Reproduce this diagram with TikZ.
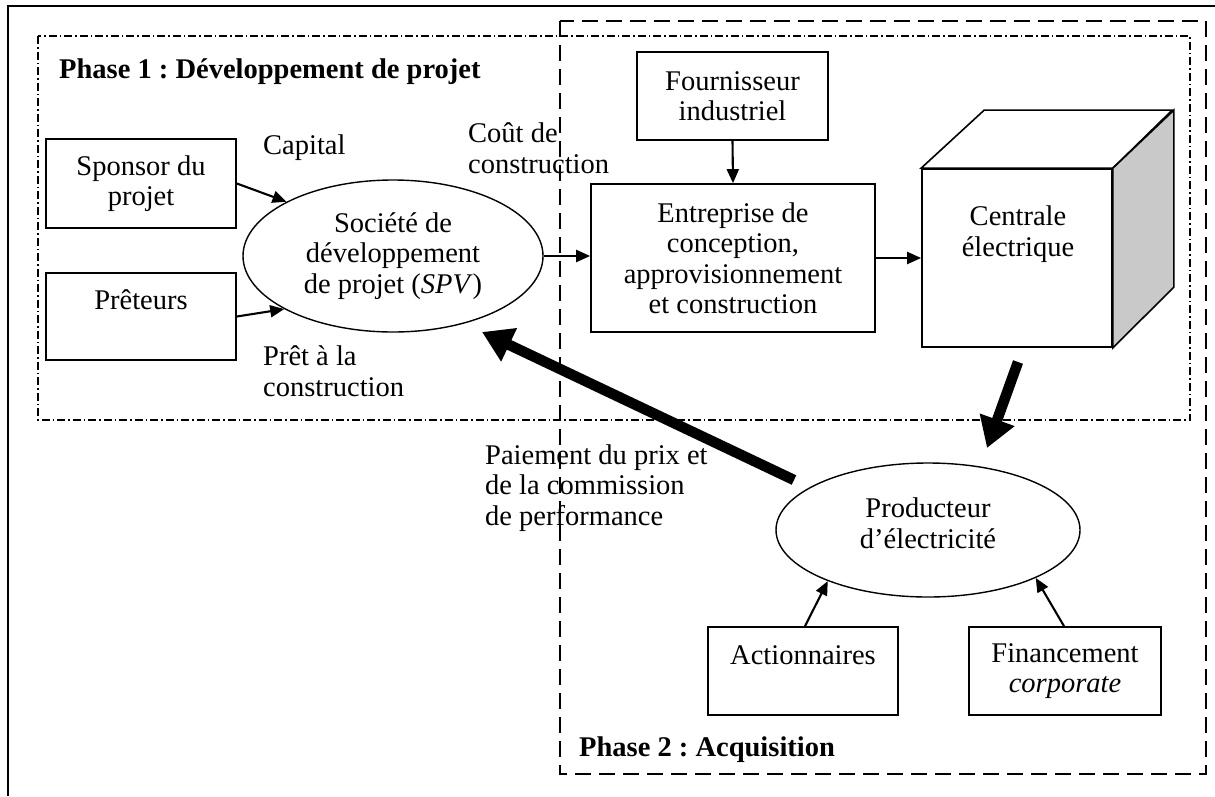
\documentclass[tikz,border=0pt]{standalone}
\usepackage{fontspec}
\setmainfont{Liberation Serif}
\usetikzlibrary{arrows.meta,shapes.geometric}
\frenchspacing
\begin{document}
\begin{tikzpicture}[x=1pt,y=-1pt,
  every node/.style={font=\fontsize{28.5}{30.5}\selectfont, inner sep=0pt, align=center},
  box/.style={draw, line width=1.7pt, rectangle},
  oval/.style={draw, line width=1.4pt, ellipse},
  lbl/.style={align=left, anchor=west},
  arr/.style={line width=2.1pt, -{Triangle[length=14pt,width=12pt]}},
  bigarr/.style={line width=10.5pt, -{Triangle[length=30pt,width=35pt]}},
  phaseone/.style={line width=1.3pt, dash pattern=on 8pt off 3pt on 1.5pt off 3pt},
  phasetwo/.style={line width=1.6pt, dash pattern=on 16pt off 8pt},
  title/.style={font=\fontsize{28.5}{30.5}\selectfont\bfseries, anchor=west}
]
\useasboundingbox (0,0) rectangle (1215,796);
\fill[white] (0,0) rectangle (1215,796);
\draw[line width=2.5pt] (8,796) -- (8,6) -- (1215,6);
\draw[phaseone] (38,36) rectangle (1190,420);
\draw[phasetwo] (560,21) rectangle (1206,774);

\node[title] (ph1) at (59,72) {Phase 1 : Développement de projet};
\node[title] (ph2) at (579,750) {Phase 2 : Acquisition};

\node[box, minimum width=190pt, minimum height=89pt] (spons) at (141,183.5) {Sponsor du\\projet};
\node[box, minimum width=190pt, minimum height=87pt] (pret) at (141,316.5) {};
\node (pretT) at (141,300) {Prêteurs};
\node[oval, minimum width=300pt, minimum height=152pt] (spv) at (393,256) {Société de\\développement\\de projet (\textit{SPV})};
\node[box, minimum width=191pt, minimum height=88pt] (four) at (732.5,96) {Fournisseur\\industriel};
\node[box, minimum width=284pt, minimum height=148pt] (ent) at (733,258) {Entreprise de\\conception,\\approvisionnement\\et construction};

\node[box, fill=white, minimum width=190pt, minimum height=178pt] (cube) at (1017,258) {};
\draw[line width=1.6pt, fill=white] (cube.north west) -- ++(63,-58) -- ++(188,0) -- (cube.north east) -- cycle;
\draw[line width=1.6pt, fill=gray!42] (cube.north east) -- ++(61,-58) -- ++(0,177) -- (cube.south east) -- cycle;
\node (cubeT) at (1018,234) {Centrale\\électrique};

\node[oval, minimum width=304pt, minimum height=134pt] (prod) at (928,530) {};
\node (prodT) at (928,523) {Producteur\\d’électricité};
\node[box, minimum width=190pt, minimum height=88pt] (act) at (803,671) {};
\node (actT) at (803,655) {Actionnaires};
\node[box, minimum width=192pt, minimum height=88pt] (fin) at (1065,671) {Financement\\\textit{corporate}};

\node[lbl] (capL) at (263,148) {Capital};
\node[lbl] (coutL) at (468,148) {Coût de\\construction};
\node[lbl] (pretL) at (263,371) {Prêt à la\\construction};
\node[lbl] (paieL) at (485,488) {Paiement du prix et\\de la commission\\de performance};

\draw[arr] (spons.east) -- (spv.153);
\draw[arr] (pret.east) -- (spv.206);
\draw[arr] (spv.east) -- (spv.east -| ent.west);
\draw[arr] (four.south) -- (ent.north);
\draw[arr] (ent.east) -- (ent.east -| cube.west);
\draw[arr] ([xshift=2pt]act.north) -- (prod.207);
\draw[arr] ([xshift=-1pt]fin.north) -- (prod.336);

\coordinate (c1) at (1018,362);
\coordinate (c2) at (987,448);
\draw[bigarr] (c1) -- (c2);
\coordinate (p1) at (794,480);
\coordinate (p2) at (482,332);
\draw[bigarr] (p1) -- (p2);
\end{tikzpicture}
\end{document}
